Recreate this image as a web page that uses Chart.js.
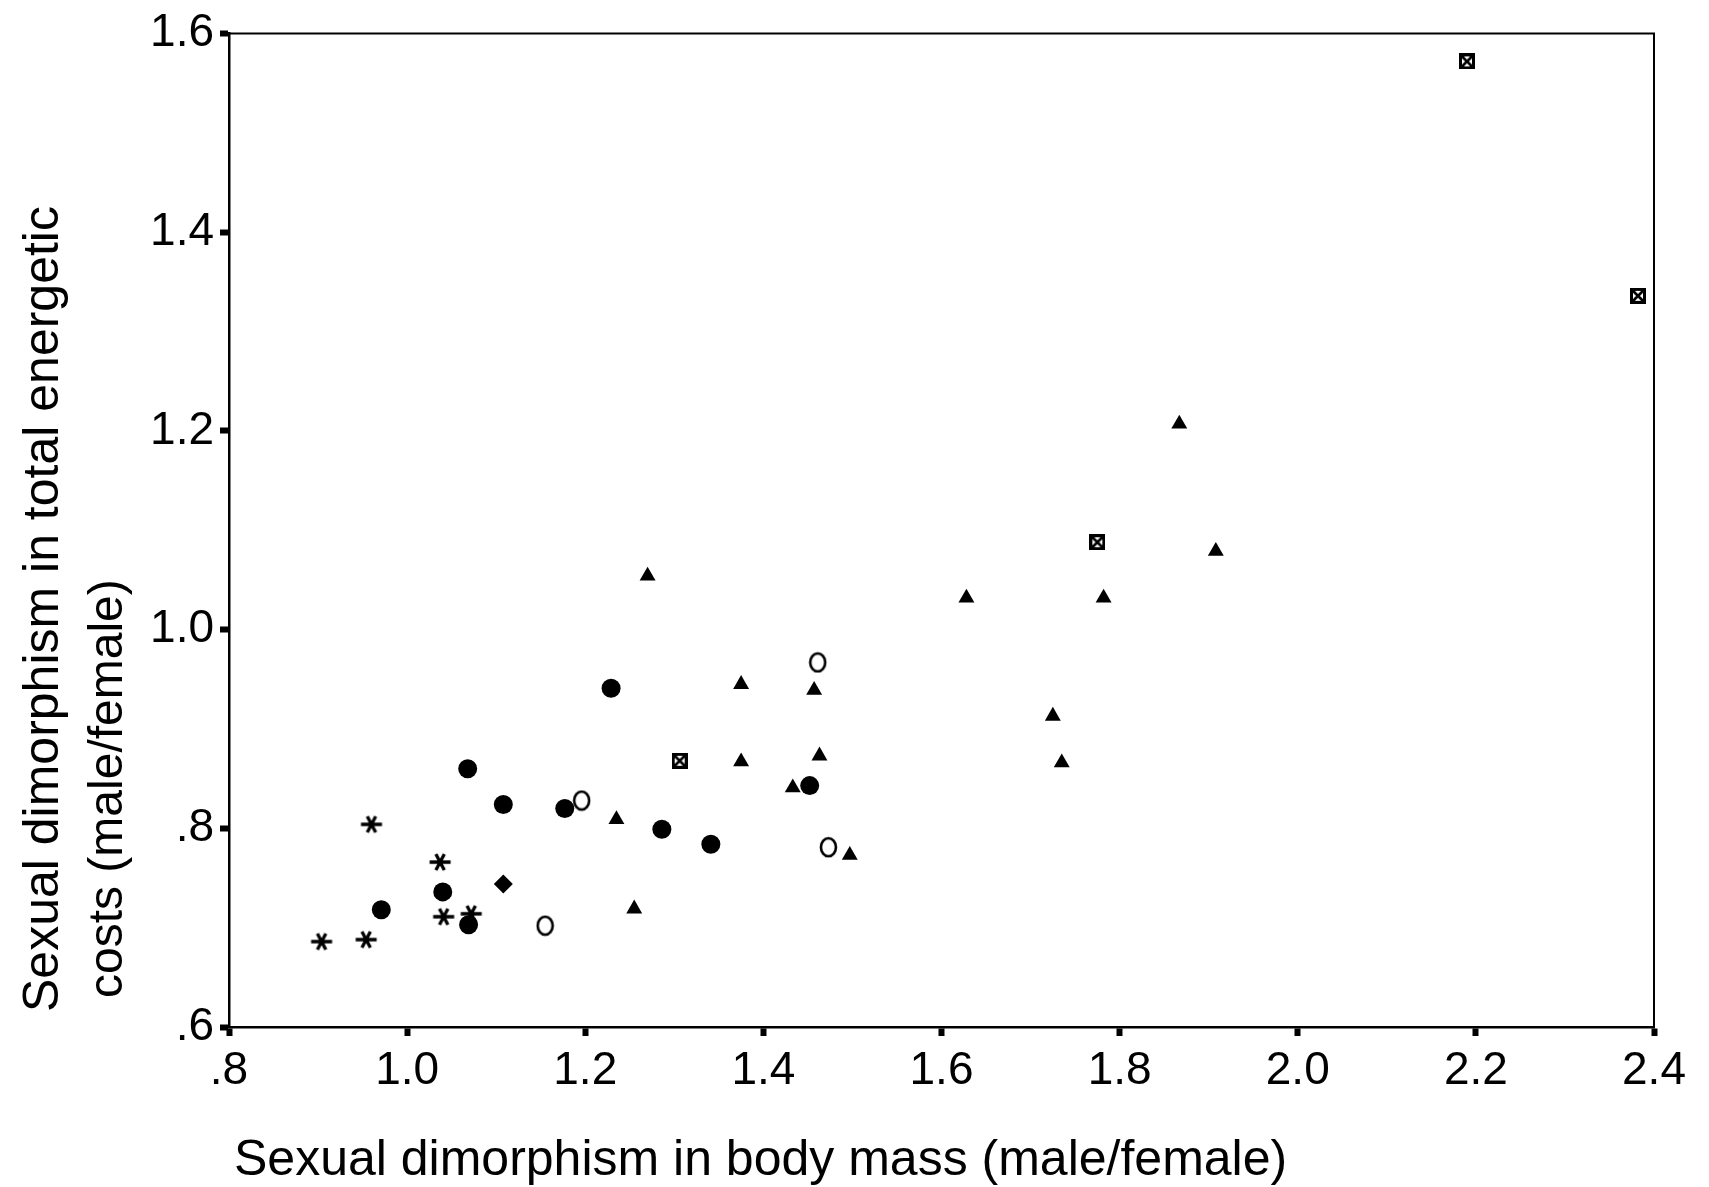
<!DOCTYPE html>
<html>
<head>
<meta charset="utf-8">
<title>Sexual dimorphism scatter</title>
<script src="https://cdn.jsdelivr.net/npm/chart.js@4.4.1/dist/chart.umd.min.js"></script>
<style>
    html, body { margin: 0; padding: 0; background: #fff; }
    #scatter { display: block; }
</style>
</head>
<body>
<canvas id="scatter" width="1709" height="1187"></canvas>
<script>
// Axis ticks
const xTickLabels = ['.8', '1.0', '1.2', '1.4', '1.6', '1.8', '2.0', '2.2', '2.4'];
const yTickLabels = ['.6', '.8', '1.0', '1.2', '1.4', '1.6'];

const xTitle = 'Sexual dimorphism in body mass (male/female)';
const yTitle = ['Sexual dimorphism in total energetic', 'costs (male/female)'];

// Series: body mass ratio (x) vs energetic cost ratio (y)
const triangleX = [1.867, 1.908, 1.628, 1.782, 1.270, 1.375, 1.457, 1.725, 1.735, 1.375, 1.463, 1.433, 1.235, 1.497, 1.255];
const triangleY = [1.207, 1.079, 1.032, 1.032, 1.054, 0.945, 0.939, 0.913, 0.866, 0.867, 0.873, 0.841, 0.809, 0.773, 0.719];

const boxX = [2.190, 2.382, 1.775, 1.306];
const boxY = [1.572, 1.336, 1.088, 0.868];

const dotX = [1.108, 1.177, 1.040, 1.341, 1.452, 1.229, 1.068, 1.286, 0.971, 1.069];
const dotY = [0.824, 0.820, 0.736, 0.784, 0.843, 0.941, 0.860, 0.799, 0.718, 0.703];

const ringX = [1.461, 1.196, 1.473, 1.155];
const ringY = [0.967, 0.828, 0.781, 0.702];

const starX = [0.960, 1.037, 1.041, 1.072, 0.904, 0.954];
const starY = [0.804, 0.766, 0.711, 0.714, 0.686, 0.688];

const diamondX = [1.108];
const diamondY = [0.744];

function toPoints(xs, ys) {
    return xs.map((x, i) => ({ x, y: ys[i] }));
}

// Small offscreen canvases used as point glyphs
function makeGlyph(w, h, draw) {
    const c = document.createElement('canvas');
    c.width = w;
    c.height = h;
    const g = c.getContext('2d');
    g.fillStyle = '#000';
    g.strokeStyle = '#000';
    draw(g, w, h);
    return c;
}

const boxGlyph = makeGlyph(16, 16, (g, w, h) => {
    g.fillStyle = '#fff';
    g.fillRect(0, 0, w, h);
    g.lineWidth = 3;
    g.strokeRect(1.5, 1.5, w - 3, h - 3);
    g.lineWidth = 2.6;
    g.beginPath();
    g.moveTo(2, 2); g.lineTo(w - 2, h - 2);
    g.moveTo(w - 2, 2); g.lineTo(2, h - 2);
    g.stroke();
});

const ringGlyph = makeGlyph(19, 22, (g, w, h) => {
    g.fillStyle = '#fff';
    g.lineWidth = 2.6;
    g.beginPath();
    g.ellipse(w / 2, h / 2, w / 2 - 2, h / 2 - 2, 0, 0, Math.PI * 2);
    g.fill();
    g.stroke();
});

const starGlyph = makeGlyph(24, 22, (g, w, h) => {
    g.lineWidth = 3.3;
    g.lineCap = 'butt';
    const cx = w / 2, cy = h / 2;
    g.beginPath();
    g.moveTo(cx - 10.5, cy); g.lineTo(cx + 10.5, cy);
    [62, 118].forEach(deg => {
        const a = deg * Math.PI / 180;
        const dx = Math.cos(a) * 9, dy = Math.sin(a) * 9;
        g.moveTo(cx - dx, cy - dy); g.lineTo(cx + dx, cy + dy);
    });
    g.stroke();
});

const frameAndTitles = {
    id: 'frameAndTitles',
    afterDraw(chart) {
        const { ctx, chartArea: a } = chart;
        ctx.save();
        ctx.strokeStyle = '#000';
        ctx.lineWidth = 2;
        ctx.beginPath();
        ctx.moveTo(a.left, a.top);
        ctx.lineTo(a.right, a.top);
        ctx.lineTo(a.right, a.bottom);
        ctx.stroke();

        ctx.fillStyle = '#000';
        ctx.font = '50px "Liberation Sans", Arial, sans-serif';
        ctx.textAlign = 'left';
        ctx.textBaseline = 'alphabetic';
        ctx.fillText(xTitle, 234, 1175);

        ctx.translate(58, 1012);
        ctx.rotate(-Math.PI / 2);
        ctx.fillText(yTitle[0], 0, 0);
        ctx.font = '48px "Liberation Sans", Arial, sans-serif';
        ctx.fillText(yTitle[1], 14, 64);
        ctx.restore();
    }
};

const tickFont = { family: '"Liberation Sans", Arial, sans-serif', size: 46 };

new Chart(document.getElementById('scatter'), {
    type: 'scatter',
    data: {
        datasets: [
            { label: 'Triangles', data: toPoints(triangleX, triangleY), pointStyle: 'triangle', pointRadius: 9.2, backgroundColor: '#000', borderColor: '#000', borderWidth: 0 },
            { label: 'Boxes', data: toPoints(boxX, boxY), pointStyle: boxGlyph },
            { label: 'Rings', data: toPoints(ringX, ringY), pointStyle: ringGlyph },
            { label: 'Dots', data: toPoints(dotX, dotY), pointStyle: 'circle', pointRadius: 9.5, backgroundColor: '#000', borderColor: '#000', borderWidth: 0 },
            { label: 'Stars', data: toPoints(starX, starY), pointStyle: starGlyph },
            { label: 'Diamond', data: toPoints(diamondX, diamondY), pointStyle: 'rectRot', pointRadius: 9.5, backgroundColor: '#000', borderColor: '#000', borderWidth: 0 }
        ]
    },
    options: {
        responsive: false,
        animation: false,
        events: [],
        layout: { padding: { top: 32, right: 55, left: 0, bottom: 0 } },
        plugins: { legend: { display: false }, tooltip: { enabled: false } },
        scales: {
            x: {
                type: 'linear',
                min: 0.8,
                max: 2.4,
                afterFit: scale => { scale.height = 160; },
                ticks: {
                    stepSize: 0.2,
                    color: '#000',
                    font: tickFont,
                    padding: 8,
                    maxRotation: 0,
                    callback: (value, index) => xTickLabels[index]
                },
                grid: { drawOnChartArea: false, color: '#000', tickLength: 9, tickWidth: 6 },
                border: { color: '#000', width: 2.5 }
            },
            y: {
                type: 'linear',
                min: 0.6,
                max: 1.6,
                afterFit: scale => { scale.width = 229; },
                ticks: {
                    stepSize: 0.2,
                    color: '#000',
                    font: tickFont,
                    padding: 6,
                    callback: (value, index) => yTickLabels[index]
                },
                grid: { drawOnChartArea: false, color: '#000', tickLength: 9, tickWidth: 6 },
                border: { color: '#000', width: 2.5 }
            }
        }
    },
    plugins: [frameAndTitles]
});
</script>
</body>
</html>
